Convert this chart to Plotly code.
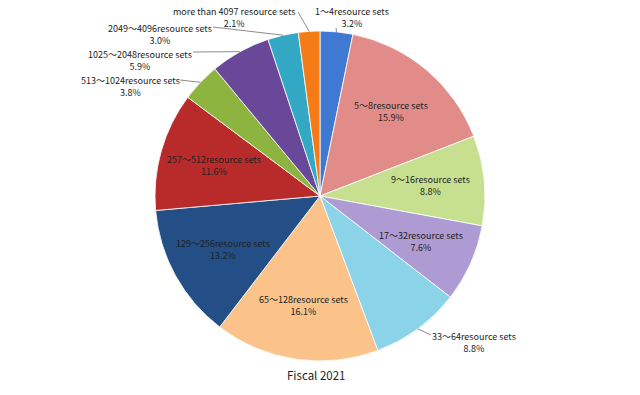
import math
import plotly.graph_objects as go

categories = ["1～4resource sets", "5～8resource sets", "9～16resource sets",
              "17～32resource sets", "33～64resource sets", "65～128resource sets",
              "129～256resource sets", "257～512resource sets", "513～1024resource sets",
              "1025～2048resource sets", "2049～4096resource sets", "more than 4097 resource sets"]
values = [3.2, 15.9, 8.8, 7.6, 8.8, 16.1, 13.2, 11.6, 3.8, 5.9, 3.0, 2.1]
title_text = "Fiscal 2021"

colors = ["#4079D2", "#E28C8A", "#C6E08F", "#AE9BD3", "#8AD3E8", "#FBC28A",
          "#234E86", "#B92B2B", "#8DB43F", "#6A4899", "#32A8C4", "#F47B15"]

W, H = 640, 395
CX, CY, R = 320, 196, 165
FONT = "Noto Sans CJK JP, Noto Sans, sans-serif"
FS = 9

def px(x):
    return x / W

def py(y):
    return 1 - y / H

# outside label layout: (text center x, first line center y, leader start x, leader start y)
outside = {
    0: (352, 10, 336, 28),
    4: (474, 335, 431, 335),
    8: (130, 79, 180, 80),
    9: (140, 53, 193, 52),
    10: (160, 27, 213, 27),
    11: (234, 10, 298, 12),
}

fig = go.Figure(go.Pie(
    labels=categories, values=values, sort=False, direction="clockwise",
    rotation=0, textinfo="none", hoverinfo="label+percent",
    marker=dict(colors=colors, line=dict(color="rgba(255,255,255,0.8)", width=1)),
    domain=dict(x=[px(CX - R), px(CX + R)], y=[py(CY + R), py(CY - R)]),
    showlegend=False,
))

total = sum(values)
annotations = []
shapes = []
cum = 0.0
for i, (cat, v) in enumerate(zip(categories, values)):
    mid = (cum + v / 2) / total * 2 * math.pi
    cum += v
    pct = f"{v / total * 100:.1f}%"
    txt = f"{cat}<br>{pct}"
    if i in outside:
        tx, ty, lx, ly = outside[i]
        ex = CX + R * math.sin(mid)
        ey = CY - R * math.cos(mid)
        annotations.append(dict(x=px(tx), y=py(ty - 7), xref="paper", yref="paper",
                                text=txt, showarrow=False, xanchor="center", yanchor="top",
                                font=dict(family=FONT, size=FS, color="#222")))
        shapes.append(dict(type="line", xref="paper", yref="paper",
                           x0=px(lx), y0=py(ly), x1=px(ex), y1=py(ey),
                           line=dict(color="#8c8c8c", width=1)))
    else:
        rr = 0.67 * R
        x = CX + rr * math.sin(mid)
        y = CY - rr * math.cos(mid)
        annotations.append(dict(x=px(x), y=py(y), xref="paper", yref="paper",
                                text=txt, showarrow=False, xanchor="center", yanchor="middle",
                                font=dict(family=FONT, size=FS, color="#222")))

annotations.append(dict(x=px(316), y=py(375), xref="paper", yref="paper", text=title_text,
                        showarrow=False, xanchor="center", yanchor="middle",
                        font=dict(family=FONT, size=11.5, color="#222")))

fig.update_layout(width=W, height=H, margin=dict(l=0, r=0, t=0, b=0),
                  paper_bgcolor="white", plot_bgcolor="white",
                  annotations=annotations, shapes=shapes)
fig.write_html("out.html", config={"displayModeBar": False},
               post_script="document.body.style.margin='0px';document.body.style.overflow='hidden';")
